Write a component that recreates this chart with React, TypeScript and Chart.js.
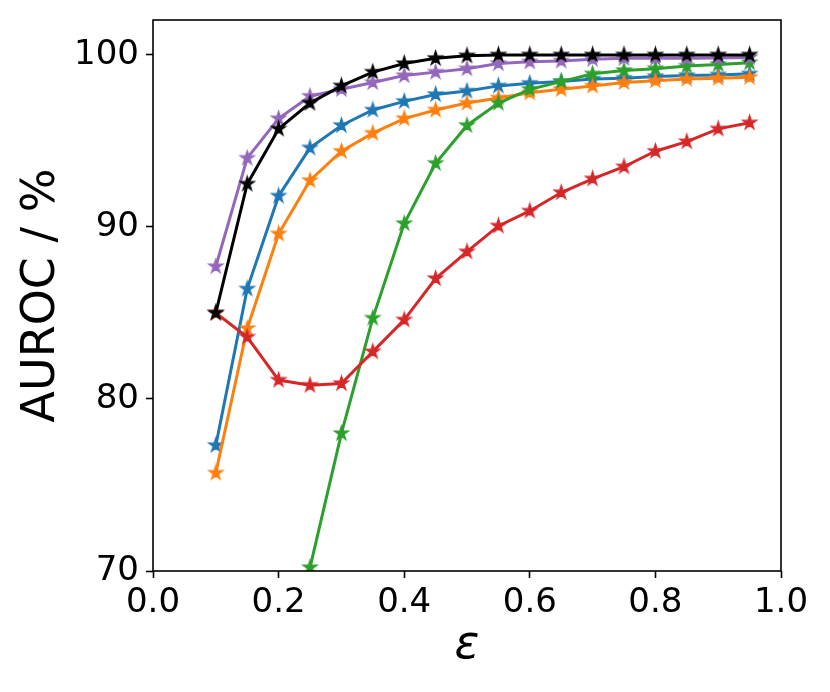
import { useEffect, useRef } from "react";
import { Chart, registerables } from "chart.js";

Chart.register(...registerables);

const epsilon = [0.1, 0.15, 0.2, 0.25, 0.3, 0.35, 0.4, 0.45, 0.5, 0.55, 0.6, 0.65, 0.7, 0.75, 0.8, 0.85, 0.9, 0.95];

const blueSeries = [77.3, 86.4, 91.8, 94.6, 95.9, 96.8, 97.3, 97.7, 97.9, 98.2, 98.35, 98.45, 98.6, 98.65, 98.74, 98.8, 98.84, 98.9];
const orangeSeries = [75.7, 84.1, 89.6, 92.7, 94.4, 95.45, 96.3, 96.8, 97.2, 97.5, 97.8, 98.0, 98.2, 98.4, 98.5, 98.6, 98.65, 98.7];
const greenSeries = [null, null, null, 70.2, 78.0, 84.7, 90.2, 93.7, 95.9, 97.2, 98.0, 98.45, 98.9, 99.1, 99.2, 99.35, 99.45, 99.55];
const redSeries = [85.0, 83.6, 81.1, 80.8, 80.9, 82.75, 84.6, 87.0, 88.56, 90.06, 90.93, 92.0, 92.8, 93.5, 94.4, 94.96, 95.7, 96.06];
const purpleSeries = [87.7, 94.0, 96.3, 97.6, 98.0, 98.4, 98.8, 99.0, 99.2, 99.5, 99.6, 99.65, 99.75, 99.8, 99.8, 99.8, 99.82, 99.85];
const blackSeries = [85.0, 92.5, 95.7, 97.2, 98.2, 99.0, 99.5, 99.8, 99.95, 100.0, 100.0, 100.0, 100.0, 100.0, 100.0, 100.0, 100.0, 100.0];

const xTicks = [0, 0.2, 0.4, 0.6, 0.8, 1.0];
const yTicks = [70, 80, 90, 100];

const xLabel = "ε";
const yLabel = "AUROC / %";

function makeStar(color: string, r: number): HTMLCanvasElement {
  const size = Math.ceil(r * 2 + 4);
  const c = document.createElement("canvas");
  c.width = size;
  c.height = size;
  const ctx = c.getContext("2d")!;
  const cx = size / 2;
  const cy = size / 2;
  const inner = r * 0.381966;
  ctx.beginPath();
  for (let i = 0; i < 10; i++) {
    const rad = i % 2 === 0 ? r : inner;
    const a = -Math.PI / 2 + (i * Math.PI) / 5;
    const px = cx + rad * Math.cos(a);
    const py = cy + rad * Math.sin(a);
    if (i === 0) ctx.moveTo(px, py);
    else ctx.lineTo(px, py);
  }
  ctx.closePath();
  ctx.fillStyle = color;
  ctx.fill();
  ctx.lineWidth = 1.2;
  ctx.strokeStyle = color;
  ctx.lineJoin = "miter";
  ctx.stroke();
  return c;
}

const framePlugin = {
  id: "frame",
  afterDraw(chart: any) {
    const { ctx, chartArea } = chart;
    ctx.save();
    ctx.strokeStyle = "#000";
    ctx.lineWidth = 1.6;
    ctx.strokeRect(chartArea.left, chartArea.top, chartArea.right - chartArea.left, chartArea.bottom - chartArea.top);
    ctx.restore();
  },
};

export default function App() {
  const ref = useRef<HTMLCanvasElement | null>(null);

  useEffect(() => {
    if (!ref.current) return;
    const mk = (label: string, values: (number | null)[], color: string) => ({
      label,
      data: epsilon.map((x, i) => ({ x, y: values[i] })),
      borderColor: color,
      backgroundColor: color,
      borderWidth: 3,
      pointStyle: makeStar(color, 7.5),
      pointRadius: 7,
      pointHoverRadius: 7,
      tension: 0,
      spanGaps: false,
    });
    // Chart.js draws the first dataset on top, so list in reverse of matplotlib order
    const datasets = [
      mk("black", blackSeries, "#000000"),
      mk("purple", purpleSeries, "#9467bd"),
      mk("red", redSeries, "#d62728"),
      mk("green", greenSeries, "#2ca02c"),
      mk("orange", orangeSeries, "#ff7f0e"),
      mk("blue", blueSeries, "#1f77b4"),
    ];
    const tickFont = { family: "'DejaVu Sans'", size: 34, lineHeight: 1 };
    const chart = new Chart(ref.current, {
      type: "line",
      data: { datasets: datasets as any },
      plugins: [framePlugin],
      options: {
        animation: false,
        responsive: false,
        maintainAspectRatio: false,
        events: [],
        layout: { padding: { top: 20, right: 49, left: 0, bottom: 0 } },
        plugins: { legend: { display: false }, tooltip: { enabled: false } },
        scales: {
          x: {
            type: "linear",
            min: 0,
            max: 1,
            afterBuildTicks: (scale: any) => {
              scale.ticks = xTicks.map((v) => ({ value: v }));
            },
            afterFit: (scale: any) => {
              scale.height = 121;
              scale.paddingLeft = 0;
              scale.paddingRight = 0;
            },
            ticks: {
              color: "#000",
              font: tickFont,
              padding: 8,
              maxRotation: 0,
              autoSkip: false,
              callback: (v: any) => Number(v).toFixed(1),
            },
            grid: {
              display: true,
              drawOnChartArea: false,
              drawTicks: true,
              tickLength: 7,
              tickWidth: 1.6,
              tickColor: "#000",
            },
            border: { display: false },
            title: {
              display: true,
              text: xLabel,
              color: "#000",
              font: { family: "'DejaVu Sans'", size: 46, style: "italic", lineHeight: 1 },
              padding: { top: 0, bottom: 23 },
            },
          },
          y: {
            type: "linear",
            min: 70,
            max: 102.03,
            afterBuildTicks: (scale: any) => {
              scale.ticks = yTicks.map((v) => ({ value: v }));
            },
            afterFit: (scale: any) => {
              scale.width = 153;
              scale.paddingTop = 0;
              scale.paddingBottom = 0;
            },
            ticks: {
              color: "#000",
              font: tickFont,
              padding: 7,
              autoSkip: false,
              callback: (v: any) => String(v),
            },
            grid: {
              display: true,
              drawOnChartArea: false,
              drawTicks: true,
              tickLength: 7,
              tickWidth: 1.6,
              tickColor: "#000",
            },
            border: { display: false },
            title: {
              display: true,
              text: yLabel,
              color: "#000",
              font: { family: "'DejaVu Sans'", size: 46, lineHeight: 1 },
              padding: { top: 19, bottom: 0 },
            },
          },
        },
      },
    });
    return () => chart.destroy();
  }, []);

  return (
    <div style={{ position: "fixed", left: 0, top: 0, width: 830, height: 692, background: "#fff" }}>
      <canvas ref={ref} width={830} height={692} style={{ width: 830, height: 692, display: "block" }} />
    </div>
  );
}
